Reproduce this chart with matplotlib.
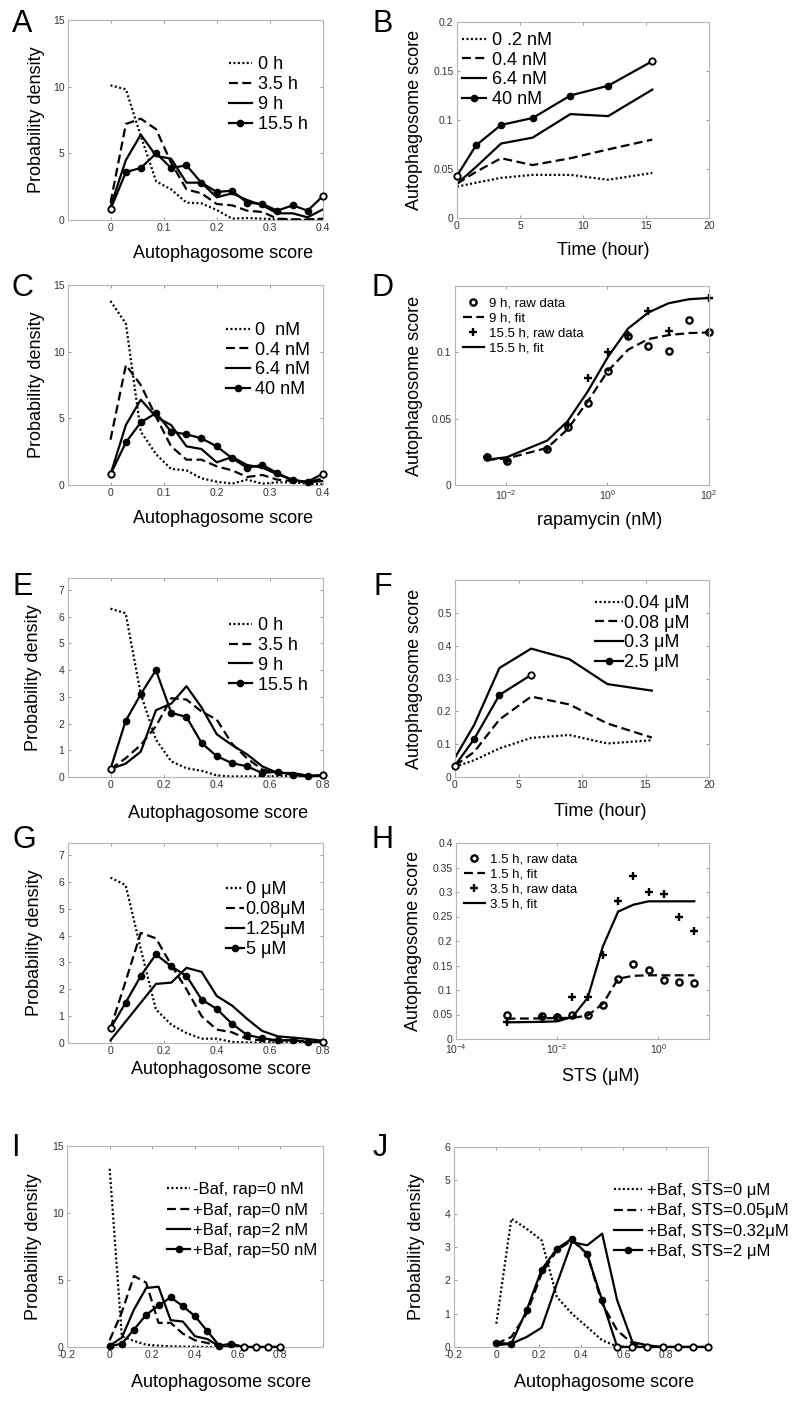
import numpy as np
import matplotlib
matplotlib.use("Agg")
import matplotlib.pyplot as plt
from matplotlib.ticker import FixedLocator, NullLocator, FuncFormatter

plt.rcParams['font.family'] = ['Liberation Sans', 'DejaVu Sans']
plt.rcParams['mathtext.fontset'] = 'custom'
plt.rcParams['mathtext.rm'] = 'Liberation Sans'

# ---- data ----
score_04 = [0, 0.029, 0.057, 0.086, 0.114, 0.143, 0.171, 0.2, 0.229, 0.257, 0.286, 0.314, 0.343, 0.371, 0.4]
score_08 = [0, 0.057, 0.114, 0.171, 0.229, 0.286, 0.343, 0.4, 0.457, 0.514, 0.571, 0.629, 0.686, 0.743, 0.8]
score_10 = [0, 0.071, 0.143, 0.214, 0.286, 0.357, 0.429, 0.5, 0.571, 0.643, 0.714, 0.786, 0.857, 0.929, 1.0]

# A: rapamycin time course histograms
a_0h = [10.1, 9.8, 6.3, 2.9, 2.3, 1.3, 1.25, 0.75, 0.1, 0.15, 0.1, 0.05, 0.0, 0.0, 0.05]
a_35h = [1.3, 7.2, 7.6, 6.8, 4.3, 2.3, 2.0, 1.2, 1.1, 0.7, 0.6, 0.1, 0.05, 0.05, 0.1]
a_9h = [1.0, 4.5, 6.4, 4.8, 4.6, 2.8, 2.8, 1.7, 2.0, 1.5, 1.1, 0.5, 0.5, 0.2, 0.8]
a_155h = [0.8, 3.6, 3.9, 5.0, 3.9, 4.1, 2.8, 2.1, 2.2, 1.3, 1.2, 0.7, 1.1, 0.7, 1.8]

# B: rapamycin time course, mean score
time_b = [0, 1.5, 3.5, 6, 9, 12, 15.5]
b_02 = [0.032, 0.036, 0.041, 0.044, 0.044, 0.039, 0.046]
b_04 = [0.035, 0.047, 0.061, 0.054, 0.061, 0.070, 0.080]
b_64 = [0.035, 0.052, 0.076, 0.082, 0.106, 0.104, 0.131]
b_40 = [0.043, 0.074, 0.095, 0.102, 0.125, 0.135, 0.160]

# C: rapamycin dose histograms
c_0 = [13.8, 12.1, 4.0, 2.3, 1.2, 1.1, 0.5, 0.25, 0.1, 0.4, 0.1, 0.2, 0.2, 0.1, 0.05]
c_04 = [3.4, 9.0, 7.5, 5.1, 2.9, 1.9, 1.9, 1.4, 1.1, 0.6, 0.75, 0.4, 0.3, 0.2, 0.5]
c_64 = [0.8, 4.5, 6.4, 5.1, 4.5, 2.9, 2.7, 1.7, 2.1, 1.5, 1.3, 0.8, 0.4, 0.2, 0.3]
c_40 = [0.8, 3.2, 4.7, 5.4, 4.0, 3.8, 3.5, 2.9, 2.0, 1.3, 1.5, 0.9, 0.35, 0.25, 0.85]

# D: rapamycin dose response
rap_conc = [0.0042, 0.0105, 0.0655, 0.164, 0.41, 1.024, 2.56, 6.4, 16, 40, 100]
d_raw9 = [0.021, 0.018, 0.027, 0.044, 0.062, 0.086, 0.112, 0.105, 0.101, 0.124, 0.115]
d_fit9 = [0.019, 0.020, 0.028, 0.042, 0.063, 0.086, 0.102, 0.110, 0.113, 0.1145, 0.115]
rap_conc_155 = [0.0042, 0.0105, 0.0655, 0.164, 0.41, 1.024, 2.56, 6.4, 16, 100]
d_raw155 = [0.021, 0.018, 0.027, 0.045, 0.081, 0.100, 0.113, 0.131, 0.116, 0.141]
d_fit155 = [0.019, 0.021, 0.0335, 0.048, 0.0705, 0.0965, 0.118, 0.130, 0.137, 0.140, 0.141]

# E: STS time course histograms
e_0h = [6.3, 6.13, 3.1, 1.4, 0.58, 0.33, 0.23, 0.06, 0.02, 0.02, 0.02, 0.03, 0.05, 0.05, 0.05]
e_35h = [0.3, 0.7, 1.2, 1.9, 2.95, 2.9, 2.45, 2.15, 1.25, 0.7, 0.28, 0.15, 0.1, 0.05, 0.05]
e_9h = [0.3, 0.5, 0.95, 2.5, 2.75, 3.4, 2.6, 1.6, 1.2, 0.85, 0.4, 0.15, 0.15, 0.05, 0.05]
e_155h = [0.3, 2.1, 3.1, 4.0, 2.4, 2.25, 1.27, 0.78, 0.52, 0.4, 0.15, 0.2, 0.08, 0.02, 0.07]

# F: STS time course, mean score
time_f = [0, 1.5, 3.5, 6, 9, 12, 15.5]
f_004 = [0.031, 0.051, 0.087, 0.119, 0.128, 0.102, 0.112]
f_008 = [0.035, 0.076, 0.175, 0.245, 0.221, 0.163, 0.120]
f_03 = [0.059, 0.158, 0.332, 0.391, 0.359, 0.283, 0.263]
time_f25 = [0, 1.5, 3.5, 6]
f_25 = [0.035, 0.115, 0.250, 0.311]

# G: STS dose histograms
g_0 = [6.16, 5.88, 3.5, 1.25, 0.68, 0.37, 0.16, 0.16, 0.04, 0.02, 0.02, 0.02, 0.02, 0.02, 0.02]
g_008 = [0.55, 2.3, 4.1, 3.9, 2.9, 2.0, 1.0, 0.5, 0.4, 0.15, 0.1, 0.1, 0.1, 0.05, 0.05]
g_125 = [0.1, 0.8, 1.5, 2.2, 2.25, 2.8, 2.65, 1.75, 1.4, 0.9, 0.45, 0.25, 0.2, 0.15, 0.08]
g_5 = [0.55, 1.5, 2.5, 3.3, 2.85, 2.5, 1.62, 1.27, 0.72, 0.3, 0.18, 0.1, 0.1, 0.03, 0.05]

# H: STS dose response
sts_conc = [0.001, 0.005, 0.01, 0.02, 0.04, 0.08, 0.16, 0.32, 0.64, 1.28, 2.56, 5.12]
h_raw15 = [0.050, 0.046, 0.044, 0.048, 0.048, 0.070, 0.122, 0.154, 0.140, 0.121, 0.117, 0.114]
h_fit15 = [0.0415, 0.042, 0.043, 0.043, 0.048, 0.072, 0.123, 0.129, 0.130, 0.130, 0.130, 0.130]
h_raw35 = [0.035, 0.044, 0.045, 0.085, 0.086, 0.171, 0.281, 0.332, 0.301, 0.295, 0.250, 0.220]
h_fit35 = [0.034, 0.035, 0.036, 0.045, 0.084, 0.189, 0.260, 0.274, 0.281, 0.281, 0.281, 0.281]

# I: bafilomycin + rapamycin histograms
i_m0 = [13.3, 0.8, 0.45, 0.17, 0.1, 0.05, 0.03, 0.02, 0.0, 0.0, 0.0, 0.0, 0.0, 0.0, 0.0]
i_p0 = [0.5, 2.6, 5.3, 4.8, 1.8, 1.8, 1.0, 0.5, 0.3, 0.1, 0.0, 0.0, 0.0, 0.0, 0.0]
i_p2 = [0.1, 0.7, 2.8, 4.4, 4.5, 2.0, 1.9, 0.8, 0.6, 0.05, 0.0, 0.0, 0.0, 0.0, 0.0]
i_p50 = [0.05, 0.25, 1.3, 2.4, 3.1, 3.7, 3.05, 2.3, 1.2, 0.1, 0.25, 0.0, 0.0, 0.0, 0.0]

# J: bafilomycin + STS histograms
j_0 = [0.7, 3.85, 3.55, 3.2, 1.5, 1.0, 0.6, 0.2, 0.02, 0.0, 0.0, 0.0, 0.0, 0.0, 0.0]
j_005 = [0.1, 0.3, 1.0, 2.2, 2.9, 3.2, 2.8, 1.3, 0.5, 0.1, 0.0, 0.0, 0.0, 0.0, 0.0]
j_032 = [0.05, 0.1, 0.3, 0.58, 1.9, 3.15, 3.05, 3.4, 1.4, 0.15, 0.05, 0.0, 0.0, 0.0, 0.0]
j_2 = [0.12, 0.1, 1.1, 2.32, 2.95, 3.25, 2.78, 1.4, 0.0, 0.0, 0.0, 0.0, 0.0, 0.0, 0.0]

# ---- styling ----
W, H = 797, 1412
LW = 1.6
MS = 4.5
DOT = (0, (0.9, 1.1))
DASH = (0, (4, 2))
SPINE = "#b5b5b5"
TICKTXT = "#333333"

fig = plt.figure(figsize=(W / 100, H / 100), dpi=100)
fig.patch.set_facecolor("white")


def px_axes(l, t, r, b):
    return fig.add_axes([l / W, 1 - b / H, (r - l) / W, (b - t) / H])


def letter(x, y, s):
    fig.text(x / W, 1 - y / H, s, fontsize=22, ha="center", va="center")


def fmt_g(v, pos):
    return f"{v:g}"


def fmt_log(v, pos):
    return r"$10^{%d}$" % int(round(np.log10(v)))


def style(ax, xlim, ylim, xticks, yticks, xlabel, ylabel, xl_pos, yl_x, log=False):
    if log:
        ax.set_xscale("log")
    ax.set_xlim(xlim)
    ax.set_ylim(ylim)
    ax.xaxis.set_major_locator(FixedLocator(xticks))
    ax.yaxis.set_major_locator(FixedLocator(yticks))
    ax.xaxis.set_minor_locator(NullLocator())
    ax.yaxis.set_minor_locator(NullLocator())
    ax.xaxis.set_major_formatter(FuncFormatter(fmt_log if log else fmt_g))
    ax.yaxis.set_major_formatter(FuncFormatter(fmt_g))
    ax.tick_params(direction="in", top=True, right=True, length=2.5, width=0.6,
                   color="#888888", labelsize=7.5, labelcolor=TICKTXT, pad=2.5)
    for sp in ax.spines.values():
        sp.set_color(SPINE)
        sp.set_linewidth(0.8)
    ax.set_xlabel(xlabel, fontsize=13)
    ax.set_ylabel(ylabel, fontsize=13)
    ax.xaxis.set_label_coords(*xl_pos)
    ax.yaxis.set_label_coords(yl_x, 0.5)


def legend(ax, x, y, fs, hl, htp, ls):
    ax.legend(loc="upper left", bbox_to_anchor=(x, y), frameon=False, fontsize=fs,
              handlelength=hl, handletextpad=htp, labelspacing=ls,
              borderpad=0, borderaxespad=0)


def marked(ax, x, y, label, hollow):
    ax.plot(x, y, "-", color="k", lw=LW, marker="o", ms=MS, mfc="k", mec="k",
            label=label, clip_on=False, zorder=3)
    ax.plot([x[i] for i in hollow], [y[i] for i in hollow], "o", ms=MS,
            mfc="white", mec="k", mew=1.3, clip_on=False, zorder=4)


def hist4(ax, x, ys, labels, hollow):
    ax.plot(x, ys[0], color="k", lw=LW, ls=DOT, label=labels[0])
    ax.plot(x, ys[1], color="k", lw=LW, ls=DASH, label=labels[1])
    ax.plot(x, ys[2], color="k", lw=LW, ls="-", label=labels[2])
    marked(ax, x, ys[3], labels[3], hollow)


ends = [0, 14]

# A
ax = px_axes(68, 20, 323, 220)
hist4(ax, score_04, [a_0h, a_35h, a_9h, a_155h], ["0 h", "3.5 h", "9 h", "15.5 h"], ends)
style(ax, (-0.08, 0.4), (0, 15), [0, 0.1, 0.2, 0.3, 0.4], [0, 5, 10, 15],
      "Autophagosome score", "Probability density", (0.61, -0.125), -0.090)
legend(ax, 0.63, 0.82, 13, 1.3, 0.3, 0.175)
letter(22, 24, "A")

# B
ax = px_axes(457, 22, 709, 218)
ax.plot(time_b, b_02, color="k", lw=LW, ls=DOT, label="0 .2 nM")
ax.plot(time_b, b_04, color="k", lw=LW, ls=DASH, label="0.4 nM")
ax.plot(time_b, b_64, color="k", lw=LW, ls="-", label="6.4 nM")
marked(ax, time_b, b_40, "40 nM", [0, 6])
style(ax, (0, 20), (0, 0.2), [0, 5, 10, 15, 20], [0, 0.05, 0.1, 0.15, 0.2],
      "Time (hour)", "Autophagosome score", (0.58, -0.122), -0.135)
legend(ax, 0.02, 0.949, 13, 1.3, 0.35, 0.15)
letter(383, 24, "B")

# C
ax = px_axes(68, 285, 323, 485)
hist4(ax, score_04, [c_0, c_04, c_64, c_40], ["0  nM", "0.4 nM", "6.4 nM", "40 nM"], ends)
style(ax, (-0.08, 0.4), (0, 15), [0, 0.1, 0.2, 0.3, 0.4], [0, 5, 10, 15],
      "Autophagosome score", "Probability density", (0.61, -0.125), -0.090)
legend(ax, 0.62, 0.815, 13, 1.3, 0.3, 0.15)
letter(22, 288, "C")

# D
ax = px_axes(455, 286, 709, 485)
ax.plot(rap_conc, d_raw9, "o", ms=MS, mfc="none", mec="k", mew=1.7, label="9 h, raw data", clip_on=False)
ax.plot(rap_conc, d_fit9, color="k", lw=LW, ls=DASH, label="9 h, fit")
ax.plot(rap_conc_155, d_raw155, "+", ms=5.5, mec="k", mew=1.7, label="15.5 h, raw data", clip_on=False)
ax.plot(rap_conc, d_fit155, color="k", lw=LW, ls="-", label="15.5 h, fit")
style(ax, (1e-3, 1e2), (0, 0.15), [1e-2, 1, 1e2], [0, 0.05, 0.1],
      "rapamycin (nM)", "Autophagosome score", (0.57, -0.136), -0.126, log=True)
legend(ax, 0.03, 0.945, 9.5, 1.6, 0.4, 0.225)
letter(383, 288, "D")

# E
ax = px_axes(68, 578, 323, 777)
hist4(ax, score_08, [e_0h, e_35h, e_9h, e_155h], ["0 h", "3.5 h", "9 h", "15.5 h"], ends)
style(ax, (-0.16, 0.8), (0, 7.45), [0, 0.2, 0.4, 0.6, 0.8], list(range(8)),
      "Autophagosome score", "Probability density", (0.59, -0.141), -0.102)
legend(ax, 0.63, 0.804, 13, 1.3, 0.3, 0.16)
letter(23, 587, "E")

# F
ax = px_axes(455, 580, 709, 777)
ax.plot(time_f, f_004, color="k", lw=LW, ls=DOT, label="0.04 \u03bcM")
ax.plot(time_f, f_008, color="k", lw=LW, ls=DASH, label="0.08 \u03bcM")
ax.plot(time_f, f_03, color="k", lw=LW, ls="-", label="0.3 \u03bcM")
marked(ax, time_f25, f_25, "2.5 \u03bcM", [0, 3])
style(ax, (0, 20), (0, 0.6), [0, 5, 10, 15, 20], [0, 0.1, 0.2, 0.3, 0.4, 0.5],
      "Time (hour)", "Autophagosome score", (0.57, -0.132), -0.126)
legend(ax, 0.55, 0.924, 13, 1.55, 0.1, 0.15)
letter(383, 587, "F")

# G
ax = px_axes(68, 843, 323, 1043)
hist4(ax, score_08, [g_0, g_008, g_125, g_5],
      ["0 \u03bcM", "0.08\u03bcM", "1.25\u03bcM", "5 \u03bcM"], ends)
style(ax, (-0.16, 0.8), (0, 7.45), [0, 0.2, 0.4, 0.6, 0.8], list(range(8)),
      "Autophagosome score", "Probability density", (0.6, -0.09), -0.098)
legend(ax, 0.62, 0.81, 13, 1.0, 0.08, 0.175)
letter(24, 840, "G")

# H
ax = px_axes(456, 843, 709, 1039)
ax.plot(sts_conc, h_raw15, "o", ms=MS, mfc="none", mec="k", mew=1.7, label="1.5 h, raw data", clip_on=False)
ax.plot(sts_conc, h_fit15, color="k", lw=LW, ls=DASH, label="1.5 h, fit")
ax.plot(sts_conc, h_raw35, "+", ms=5.5, mec="k", mew=1.7, label="3.5 h, raw data", clip_on=False)
ax.plot(sts_conc, h_fit35, color="k", lw=LW, ls="-", label="3.5 h, fit")
style(ax, (1e-4, 1e1), (0, 0.4), [1e-4, 1e-2, 1], [0, 0.05, 0.1, 0.15, 0.2, 0.25, 0.3, 0.35, 0.4],
      "STS (\u03bcM)", "Autophagosome score", (0.57, -0.148), -0.134, log=True)
legend(ax, 0.03, 0.949, 9.5, 1.6, 0.4, 0.225)
letter(383, 840, "H")

# I
ax = px_axes(67, 1146, 323, 1347)
hist4(ax, score_08, [i_m0, i_p0, i_p2, i_p50],
      ["-Baf, rap=0 nM", "+Baf, rap=0 nM", "+Baf, rap=2 nM", "+Baf, rap=50 nM"],
      [11, 12, 13, 14])
style(ax, (-0.2, 1.0), (0, 15), [-0.2, 0, 0.2, 0.4, 0.6, 0.8], [0, 5, 10, 15],
      "Autophagosome score", "Probability density", (0.6, -0.134), -0.098)
legend(ax, 0.39, 0.82, 12, 1.4, 0.15, 0.32)
letter(15, 1148, "I")

# J
ax = px_axes(454, 1147, 708, 1347)
hist4(ax, score_10, [j_0, j_005, j_032, j_2],
      ["+Baf, STS=0 \u03bcM", "+Baf, STS=0.05\u03bcM", "+Baf, STS=0.32\u03bcM", "+Baf, STS=2 \u03bcM"],
      [8, 9, 10, 11, 12, 13, 14])
style(ax, (-0.2, 1.0), (0, 6), [-0.2, 0, 0.2, 0.4, 0.6, 0.8], list(range(7)),
      "Autophagosome score", "Probability density", (0.59, -0.134), -0.114)
legend(ax, 0.63, 0.82, 12, 1.7, 0.25, 0.32)
letter(380, 1148, "J")

fig.savefig("out.png", dpi=100, facecolor="white")
